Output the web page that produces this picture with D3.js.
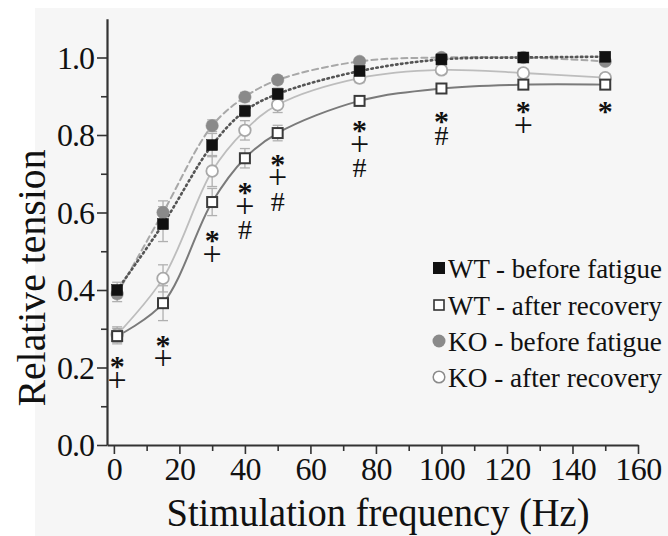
<!DOCTYPE html>
<html><head><meta charset="utf-8">
<script src="https://cdn.jsdelivr.net/npm/d3@7"></script>
<style>
html,body{margin:0;padding:0;background:#fff;}
svg{display:block;}
svg text{font-family:"Liberation Serif","DejaVu Serif","Noto Serif","Times New Roman",Times,serif !important;fill:#111;}
</style></head>
<body>
<svg id="c" width="668" height="536"></svg>
<script>
// ---- data ----
const freqs = [1, 15, 30, 40, 50, 75, 100, 125, 150];
const wtBefore    = [0.400, 0.570, 0.774, 0.862, 0.906, 0.965, 0.995, 1.000, 1.002];
const wtBeforeErr = [0.020, 0.045, 0.030, 0.015, 0.015, 0.010, 0.008, 0.008, 0.008];
const wtAfter     = [0.281, 0.366, 0.627, 0.740, 0.805, 0.888, 0.920, 0.930, 0.930];
const wtAfterErr  = [0.020, 0.045, 0.035, 0.025, 0.020, 0.012, 0.010, 0.010, 0.010];
const koBefore    = [0.390, 0.600, 0.824, 0.898, 0.942, 0.990, 1.000, 1.000, 0.990];
const koBeforeErr = [0.020, 0.030, 0.015, 0.012, 0.010, 0.008, 0.008, 0.008, 0.008];
const koAfter     = [0.285, 0.430, 0.707, 0.812, 0.878, 0.947, 0.968, 0.960, 0.948];
const koAfterErr  = [0.020, 0.035, 0.040, 0.025, 0.020, 0.012, 0.010, 0.010, 0.010];
// significance marks below WT-after points (first mark centre in data units)
const sigMarks = [["*","+"],["*","+"],["*","+"],["*","+","#"],["*","+","#"],["*","+","#"],["*","#"],["*","+"],["*"]];
const sigTop   = [0.225, 0.281, 0.550, 0.674, 0.748, 0.834, 0.859, 0.883, 0.883];
const xTicks = [0, 20, 40, 60, 80, 100, 120, 140, 160];
const xMinor = [10, 30, 50, 70, 90, 110, 130, 150];
const yTicks = [0.0, 0.2, 0.4, 0.6, 0.8, 1.0];
const yMinor = [0.1, 0.3, 0.5, 0.7, 0.9];
const legendLabels = ["WT - before fatigue", "WT - after recovery", "KO - before fatigue", "KO - after recovery"];
const xTitle = "Stimulation frequency (Hz)";
const yTitle = "Relative tension";

// ---- drawing ----
const svg = d3.select("#c");
svg.append("rect").attr("x",35).attr("y",8).attr("width",633).attr("height",528).attr("fill","#f6f6f6");

const x = d3.scaleLinear().domain([-2.1, 160]).range([107, 638]);
const y = d3.scaleLinear().domain([0, 1.1]).range([445, 18.75]);

// minor ticks
const gxm = svg.append("g").attr("transform","translate(0,445)")
  .call(d3.axisBottom(x).tickValues(xMinor).tickSize(6).tickFormat(""));
gxm.select(".domain").remove();
gxm.selectAll("line").attr("stroke","#333").attr("stroke-width",1.6);
const gym = svg.append("g").attr("transform","translate(107,0)")
  .call(d3.axisLeft(y).tickValues(yMinor).tickSize(6).tickFormat(""));
gym.select(".domain").remove();
gym.selectAll("line").attr("stroke","#333").attr("stroke-width",1.6);

const gx = svg.append("g").attr("transform","translate(0,445)")
  .call(d3.axisBottom(x).tickValues(xTicks).tickSize(9).tickSizeOuter(0).tickPadding(3).tickFormat(d3.format("d")));
gx.attr("font-family",null);
gx.select(".domain").attr("stroke","#333").attr("stroke-width",2.2);
gx.selectAll("line").attr("stroke","#333").attr("stroke-width",1.6);
gx.selectAll("text").attr("font-size",32).attr("fill","#111")
  .attr("letter-spacing","-0.5px").attr("dy","0.72em");

const gy = svg.append("g").attr("transform","translate(107,0)")
  .call(d3.axisLeft(y).tickValues(yTicks).tickSize(10).tickSizeOuter(0).tickPadding(3).tickFormat(d3.format(".1f")));
gy.attr("font-family",null);
gy.select(".domain").attr("stroke","#333").attr("stroke-width",2.2);
gy.selectAll("line").attr("stroke","#333").attr("stroke-width",1.6);
gy.selectAll("text").attr("font-size",32).attr("fill","#111")
  .attr("letter-spacing","-1px").attr("dy","0.34em");

// titles
svg.append("text").attr("x",378).attr("y",526).attr("text-anchor","middle")
  .attr("font-size",40).attr("textLength",423).attr("lengthAdjust","spacingAndGlyphs").text(xTitle);
svg.append("text").attr("transform","translate(45,278) rotate(-90)").attr("text-anchor","middle")
  .attr("font-size",40).attr("textLength",257).attr("lengthAdjust","spacingAndGlyphs").text(yTitle);

// series
const series = [
  {vals: koAfter,  err: koAfterErr,  stroke:"#bdbdbd", width:1.8, dash:null,  marker:"circle", fill:"#fff", mstroke:"#a8a8a8"},
  {vals: wtAfter,  err: wtAfterErr,  stroke:"#7a7a7a", width:2.0, dash:null,  marker:"square", fill:"#fff", mstroke:"#3a3a3a"},
  {vals: koBefore, err: koBeforeErr, stroke:"#a8a8a8", width:2.0, dash:"6,4", marker:"circle", fill:"#8a8a8a", mstroke:"#8a8a8a"},
  {vals: wtBefore, err: wtBeforeErr, stroke:"#555", width:2.6, dash:"1.5,3.5", marker:"square", fill:"#111", mstroke:"#111"}
];
const line = d3.line().x((d,i)=>x(freqs[i])).y(d=>y(d)).curve(d3.curveCatmullRom.alpha(0.5));
series.forEach(s=>{
  const p = svg.append("path").datum(s.vals).attr("d",line).attr("fill","none")
    .attr("stroke",s.stroke).attr("stroke-width",s.width).attr("stroke-linecap","round");
  if (s.dash) p.attr("stroke-dasharray",s.dash);
});
// error bars
series.forEach(s=>{
  const g = svg.append("g").attr("stroke","#b0b0b0").attr("stroke-width",1.3);
  s.vals.forEach((v,i)=>{
    const cx = x(freqs[i]), y1 = y(v + s.err[i]), y2 = y(v - s.err[i]);
    g.append("line").attr("x1",cx).attr("x2",cx).attr("y1",y1).attr("y2",y2);
    g.append("line").attr("x1",cx-5).attr("x2",cx+5).attr("y1",y1).attr("y2",y1);
    g.append("line").attr("x1",cx-5).attr("x2",cx+5).attr("y1",y2).attr("y2",y2);
  });
});
// markers
series.forEach(s=>{
  const g = svg.append("g");
  s.vals.forEach((v,i)=>{
    const cx = x(freqs[i]), cy = y(v);
    if (s.marker==="square") {
      const sz = s.fill==="#fff" ? 10 : 11;
      g.append("rect").attr("x",cx-sz/2).attr("y",cy-sz/2).attr("width",sz).attr("height",sz)
        .attr("fill",s.fill).attr("stroke",s.mstroke).attr("stroke-width", s.fill==="#fff"?2:0.5);
    } else {
      g.append("circle").attr("cx",cx).attr("cy",cy).attr("r", s.fill==="#fff"?5.8:6.2)
        .attr("fill",s.fill).attr("stroke",s.mstroke).attr("stroke-width", s.fill==="#fff"?1.8:0.5);
    }
  });
});

// significance marks (one text per column, stacked tspans)
const markSize = {"*":30, "+":34, "#":28};
const markOffset = {"*":0.62, "+":0.30, "#":0.34};
sigMarks.forEach((marks,i)=>{
  const cx = x(freqs[i]);
  const top = y(sigTop[i]);
  const t = svg.append("text").attr("x",cx).attr("y",top).attr("text-anchor","middle").attr("font-size",28);
  let prev = 0;
  marks.forEach((m,j)=>{
    const want = j*23 + markOffset[m]*markSize[m];
    t.append("tspan").attr("x",cx).attr("dy", want - prev)
      .attr("font-weight", m==="*"?"bold":"normal")
      .attr("font-size", markSize[m])
      .text(m);
    prev = want;
  });
});

// legend
const legendY = [268, 305, 341, 377];
const lg = svg.append("g");
legendLabels.forEach((lab,i)=>{
  const cy = legendY[i], mx = 439;
  if (i===0) lg.append("rect").attr("x",mx-6).attr("y",cy-6).attr("width",12).attr("height",12).attr("fill","#111");
  if (i===1) lg.append("rect").attr("x",mx-5).attr("y",cy-5).attr("width",10).attr("height",10).attr("fill","#fff").attr("stroke","#333").attr("stroke-width",1.6);
  if (i===2) lg.append("circle").attr("cx",mx).attr("cy",cy).attr("r",6.5).attr("fill","#8a8a8a");
  if (i===3) lg.append("circle").attr("cx",mx).attr("cy",cy).attr("r",5.8).attr("fill","#fff").attr("stroke","#8a8a8a").attr("stroke-width",1.5);
  const t = lg.append("text").attr("x",0).attr("y",0).attr("dy","0.34em").attr("font-size",28).text(lab);
  const w = t.node().getComputedTextLength();
  const sx = Math.min(1, 214 / w);
  t.attr("transform", `translate(448,${cy}) scale(${sx},1)`);
});
</script>
</body></html>
